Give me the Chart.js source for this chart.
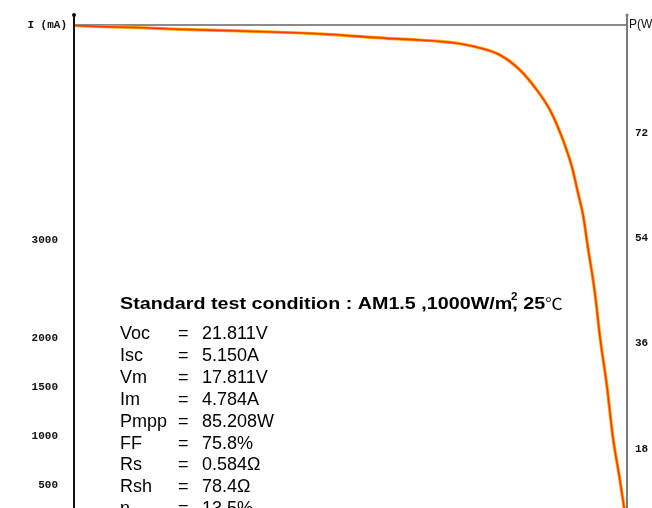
<!DOCTYPE html>
<html>
<head>
<meta charset="utf-8">
<script src="https://cdn.jsdelivr.net/npm/chart.js@4.4.1/dist/chart.umd.min.js"></script>
<style>
  html, body { margin: 0; padding: 0; background: #fff; }
  #wrap { width: 652px; height: 508px; }
</style>
</head>
<body>
<div id="wrap"><canvas id="c"></canvas></div>
<script>
// I-V curve (volts, milliamps)
const VOLTAGE = [0, 1.15, 2.73, 4.20, 6.18, 8.16, 10.02, 12.40, 13.70, 14.49, 15.29, 16.08,
  16.87, 17.66, 18.33, 18.85, 19.32, 19.72, 19.96, 20.16, 20.35, 20.63, 20.83, 21.11,
  21.34, 21.62, 21.78, 21.88];
const CURRENT = [5190, 5177, 5166, 5150, 5136, 5120, 5099, 5058, 5041, 5026, 5003, 4960,
  4888, 4735, 4531, 4326, 4051, 3745, 3480, 3255, 2929, 2459, 2010, 1500,
  990, 551, 276, 100];

const I_TICKS = [500, 1000, 1500, 2000, 3000];
const P_TICKS = [18, 36, 54, 72];

const TITLE = "Standard test condition : AM1.5 ,1000W/m";
const PARAM_NAMES = ["Voc", "Isc", "Vm", "Im", "Pmpp", "FF", "Rs", "Rsh", "η"];
const PARAM_VALUES = ["21.811V", "5.150A", "17.811V", "4.784A", "85.208W", "75.8%", "0.584Ω", "78.4Ω", "13.5%"];

const TICK_FONT = { family: "'Liberation Mono', monospace", size: 11, weight: "bold" };

const points = VOLTAGE.map((v, i) => ({ x: v, y: CURRENT[i] }));

const frame = {
  id: "frame",
  beforeDatasetsDraw(chart) {
    const { ctx, chartArea: a } = chart;
    ctx.save();
    // top border
    ctx.strokeStyle = "#8a8a8a";
    ctx.lineWidth = 2;
    ctx.beginPath();
    ctx.moveTo(a.left, a.top);
    ctx.lineTo(a.right, a.top);
    ctx.stroke();
    ctx.restore();
  },
  afterDatasetsDraw(chart) {
    const { ctx, chartArea: a } = chart;
    ctx.save();
    // left axis, black with a dot on top
    ctx.strokeStyle = "#111";
    ctx.lineWidth = 2;
    ctx.beginPath();
    ctx.moveTo(a.left, a.top - 10);
    ctx.lineTo(a.left, a.bottom);
    ctx.stroke();
    ctx.fillStyle = "#111";
    ctx.beginPath();
    ctx.arc(a.left, a.top - 10, 2, 0, Math.PI * 2);
    ctx.fill();
    // right axis, grey
    ctx.strokeStyle = "#7a7a7a";
    ctx.beginPath();
    ctx.moveTo(a.right, a.top - 10);
    ctx.lineTo(a.right, a.bottom);
    ctx.stroke();
    ctx.fillStyle = "#7a7a7a";
    ctx.beginPath();
    ctx.arc(a.right, a.top - 10, 1.5, 0, Math.PI * 2);
    ctx.fill();

    // axis titles
    ctx.fillStyle = "#111";
    ctx.font = "bold 11px 'Liberation Mono', monospace";
    ctx.textAlign = "right";
    ctx.textBaseline = "middle";
    ctx.fillText("I (mA)", a.left - 7, a.top);
    ctx.font = "12px 'Liberation Sans', Arial, sans-serif";
    ctx.textAlign = "left";
    ctx.fillText("P(W)", a.right + 2, a.top);

    // test condition block (title is drawn stretched, as in the source)
    ctx.textBaseline = "alphabetic";
    ctx.fillStyle = "#000";
    ctx.save();
    ctx.translate(120, 309);
    ctx.scale(1.16, 1);
    let x = 0;
    ctx.font = "bold 17px 'Liberation Sans', Arial, sans-serif";
    ctx.fillText(TITLE, x, 0);
    x += ctx.measureText(TITLE).width;
    ctx.font = "bold 10px 'Liberation Sans', Arial, sans-serif";
    ctx.fillText("2", x - 1, -9);
    ctx.font = "bold 17px 'Liberation Sans', Arial, sans-serif";
    ctx.fillText(", 25", x, 0);
    x += ctx.measureText(", 25").width;
    ctx.font = "15px 'Noto Sans CJK SC', sans-serif";
    ctx.fillText("℃", x, 0);
    ctx.restore();

    ctx.font = "18px 'Liberation Sans', Arial, sans-serif";
    PARAM_NAMES.forEach((name, i) => {
      const ry = 339 + i * 21.9;
      ctx.fillText(name, 120, ry);
      ctx.fillText("=", 178, ry);
      ctx.fillText(PARAM_VALUES[i], 202, ry);
    });
    ctx.restore();
  }
};

new Chart(document.getElementById("c"), {
  type: "line",
  data: {
    datasets: [
      {
        // red core (dataset 0 is painted last)
        data: points,
        borderColor: "#ff3a00",
        borderWidth: 1.6,
        pointRadius: 0,
        cubicInterpolationMode: "monotone",
        yAxisID: "y",
      },
      {
        // orange glow underneath
        data: points,
        borderColor: "#ffa200",
        borderWidth: 3.2,
        pointRadius: 0,
        cubicInterpolationMode: "monotone",
        yAxisID: "y",
      },
    ],
  },
  options: {
    responsive: true,
    maintainAspectRatio: false,
    animation: false,
    layout: { padding: { top: 25, bottom: 0, left: 0, right: 0 } },
    plugins: { legend: { display: false }, tooltip: { enabled: false } },
    scales: {
      x: { type: "linear", min: 0, max: 21.9, display: false },
      y: {
        type: "linear",
        position: "left",
        min: 265,
        max: 5194,
        grid: { display: false, drawTicks: false },
        border: { display: false },
        afterBuildTicks: (s) => { s.ticks = I_TICKS.map(v => ({ value: v })); },
        afterFit: (s) => { s.width = 74; s.paddingTop = 0; s.paddingBottom = 0; },
        ticks: { color: "#111", font: TICK_FONT, padding: 16, callback: (v) => String(v) },
      },
      y2: {
        type: "linear",
        position: "right",
        min: 7.94,
        max: 90.4,
        grid: { display: false, drawTicks: false },
        border: { display: false },
        afterBuildTicks: (s) => { s.ticks = P_TICKS.map(v => ({ value: v })); },
        afterFit: (s) => { s.width = 25; s.paddingTop = 0; s.paddingBottom = 0; },
        ticks: { color: "#111", font: TICK_FONT, padding: 8, callback: (v) => String(v) },
      },
    },
  },
  plugins: [frame],
});
</script>
</body>
</html>
